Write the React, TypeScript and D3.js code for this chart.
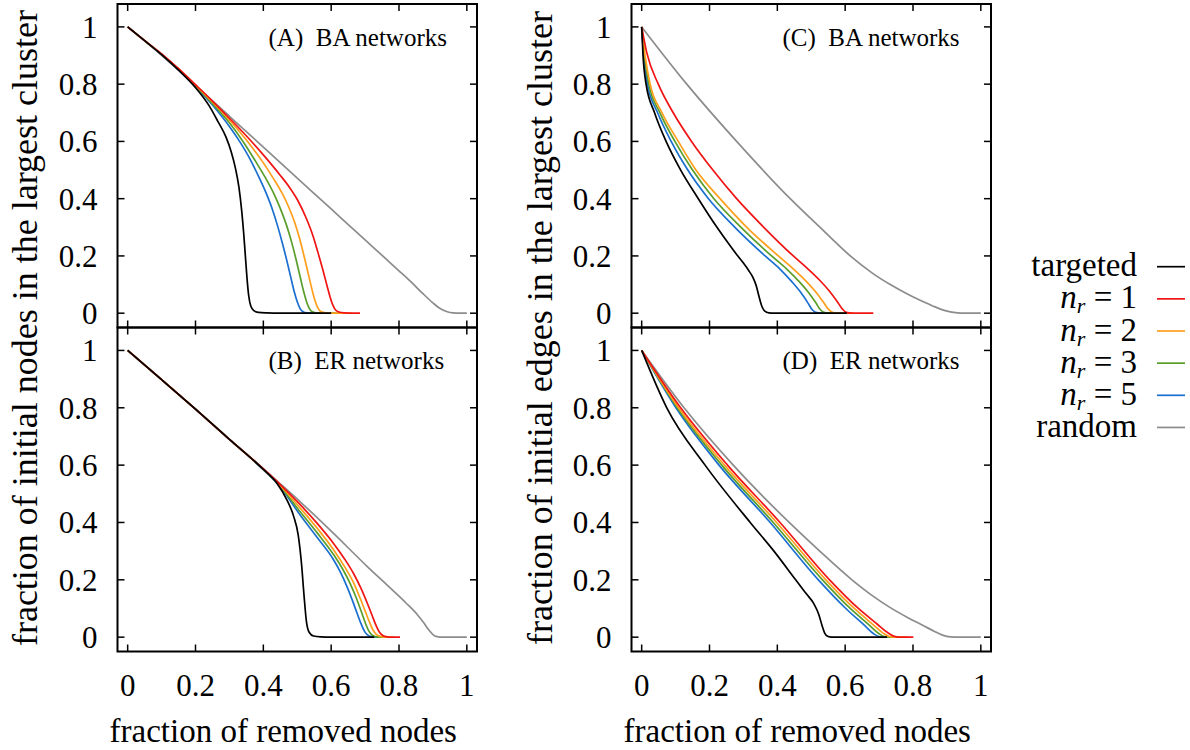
import React from 'react';
import * as d3 from 'd3';

type Pt = [number, number];

// (A) BA networks, nodes
const aTargeted: Pt[] = [[0, 1], [0.05, 0.952], [0.1, 0.903], [0.15, 0.849], [0.2, 0.788], [0.24, 0.725], [0.265, 0.672], [0.29, 0.615], [0.305, 0.565], [0.318, 0.505], [0.328, 0.44], [0.336, 0.36], [0.342, 0.28], [0.347, 0.2], [0.352, 0.12], [0.357, 0.06], [0.363, 0.025], [0.372, 0.009], [0.385, 0.003], [0.41, 0.001], [0.45, 0], [0.6, 0]];
const aNr1: Pt[] = [[0, 1], [0.05, 0.952], [0.1, 0.906], [0.15, 0.854], [0.2, 0.798], [0.25, 0.741], [0.3, 0.681], [0.351, 0.618], [0.4, 0.553], [0.449, 0.483], [0.475, 0.443], [0.5, 0.397], [0.525, 0.336], [0.547, 0.268], [0.562, 0.208], [0.577, 0.145], [0.588, 0.095], [0.597, 0.056], [0.605, 0.028], [0.613, 0.011], [0.623, 0.004], [0.64, 0.001], [0.66, 0], [0.685, 0]];
const aNr2: Pt[] = [[0, 1], [0.05, 0.952], [0.1, 0.905], [0.15, 0.853], [0.2, 0.797], [0.25, 0.738], [0.3, 0.675], [0.35, 0.605], [0.4, 0.525], [0.43, 0.47], [0.455, 0.42], [0.475, 0.37], [0.493, 0.315], [0.507, 0.26], [0.52, 0.2], [0.532, 0.14], [0.543, 0.085], [0.552, 0.045], [0.56, 0.02], [0.568, 0.007], [0.58, 0.002], [0.6, 0], [0.66, 0]];
const aNr3: Pt[] = [[0, 1], [0.05, 0.952], [0.1, 0.904], [0.15, 0.852], [0.2, 0.794], [0.25, 0.732], [0.3, 0.665], [0.34, 0.6], [0.38, 0.525], [0.41, 0.465], [0.432, 0.415], [0.452, 0.36], [0.469, 0.305], [0.483, 0.25], [0.496, 0.19], [0.508, 0.13], [0.518, 0.08], [0.527, 0.042], [0.535, 0.018], [0.543, 0.006], [0.555, 0.001], [0.575, 0], [0.635, 0]];
const aNr5: Pt[] = [[0, 1], [0.05, 0.952], [0.1, 0.904], [0.15, 0.851], [0.2, 0.792], [0.25, 0.727], [0.3, 0.652], [0.33, 0.6], [0.36, 0.54], [0.387, 0.475], [0.408, 0.42], [0.426, 0.365], [0.442, 0.305], [0.456, 0.245], [0.469, 0.185], [0.481, 0.125], [0.491, 0.076], [0.5, 0.04], [0.508, 0.017], [0.516, 0.006], [0.528, 0.001], [0.55, 0], [0.61, 0]];
const aRandom: Pt[] = [[0, 1], [0.05, 0.951], [0.1, 0.901], [0.15, 0.849], [0.2, 0.796], [0.3, 0.688], [0.4, 0.58], [0.5, 0.472], [0.6, 0.364], [0.7, 0.256], [0.764, 0.187], [0.8, 0.148], [0.84, 0.104], [0.87, 0.069], [0.9, 0.036], [0.92, 0.017], [0.94, 0.006], [0.96, 0.001], [0.98, 0], [1, 0]];

// (B) ER networks, nodes
const bTargeted: Pt[] = [[0, 1], [0.1, 0.898], [0.2, 0.795], [0.3, 0.69], [0.4, 0.585], [0.44, 0.537], [0.469, 0.48], [0.489, 0.423], [0.503, 0.355], [0.513, 0.25], [0.52, 0.145], [0.527, 0.055], [0.535, 0.017], [0.548, 0.004], [0.57, 0.001], [0.6, 0], [0.727, 0]];
const bNr1: Pt[] = [[0, 1], [0.1, 0.898], [0.2, 0.795], [0.3, 0.69], [0.4, 0.587], [0.45, 0.532], [0.508, 0.463], [0.56, 0.395], [0.607, 0.327], [0.64, 0.272], [0.666, 0.222], [0.688, 0.17], [0.706, 0.12], [0.72, 0.078], [0.732, 0.042], [0.742, 0.018], [0.752, 0.006], [0.765, 0.001], [0.78, 0], [0.803, 0]];
const bNr2: Pt[] = [[0, 1], [0.1, 0.898], [0.2, 0.795], [0.3, 0.69], [0.4, 0.586], [0.45, 0.529], [0.508, 0.451], [0.56, 0.378], [0.607, 0.305], [0.64, 0.245], [0.666, 0.19], [0.684, 0.14], [0.699, 0.095], [0.712, 0.055], [0.723, 0.026], [0.733, 0.01], [0.744, 0.003], [0.757, 0], [0.785, 0]];
const bNr3: Pt[] = [[0, 1], [0.1, 0.898], [0.2, 0.795], [0.3, 0.69], [0.4, 0.585], [0.45, 0.526], [0.508, 0.438], [0.56, 0.362], [0.607, 0.288], [0.635, 0.235], [0.656, 0.187], [0.673, 0.14], [0.688, 0.092], [0.7, 0.052], [0.71, 0.024], [0.719, 0.009], [0.73, 0.002], [0.745, 0], [0.765, 0]];
const bNr5: Pt[] = [[0, 1], [0.1, 0.898], [0.2, 0.795], [0.3, 0.69], [0.4, 0.584], [0.45, 0.524], [0.508, 0.427], [0.56, 0.346], [0.607, 0.27], [0.628, 0.225], [0.646, 0.178], [0.662, 0.13], [0.676, 0.085], [0.688, 0.047], [0.698, 0.021], [0.707, 0.008], [0.718, 0.002], [0.732, 0], [0.745, 0]];
const bRandom: Pt[] = [[0, 1], [0.1, 0.898], [0.2, 0.795], [0.3, 0.69], [0.4, 0.588], [0.45, 0.535], [0.508, 0.473], [0.607, 0.362], [0.705, 0.248], [0.77, 0.176], [0.82, 0.12], [0.853, 0.08], [0.873, 0.05], [0.888, 0.025], [0.9, 0.009], [0.912, 0.002], [0.93, 0], [1, 0]];

// (C) BA networks, edges
const cTargeted: Pt[] = [[0, 1], [0.004, 0.9], [0.013, 0.8], [0.038, 0.7], [0.072, 0.6], [0.115, 0.5], [0.167, 0.4], [0.222, 0.3], [0.255, 0.245], [0.28, 0.205], [0.3, 0.175], [0.315, 0.15], [0.328, 0.125], [0.338, 0.095], [0.346, 0.058], [0.354, 0.025], [0.363, 0.007], [0.375, 0.001], [0.39, 0], [0.605, 0]];
const cNr1: Pt[] = [[0, 1], [0.015, 0.91], [0.049, 0.8], [0.093, 0.7], [0.147, 0.6], [0.21, 0.5], [0.28, 0.4], [0.36, 0.3], [0.447, 0.2], [0.49, 0.155], [0.525, 0.115], [0.555, 0.075], [0.577, 0.04], [0.592, 0.014], [0.603, 0.003], [0.62, 0], [0.683, 0]];
const cNr2: Pt[] = [[0, 1], [0.01, 0.9], [0.025, 0.8], [0.06, 0.7], [0.108, 0.6], [0.16, 0.5], [0.231, 0.4], [0.31, 0.3], [0.403, 0.2], [0.447, 0.155], [0.484, 0.113], [0.514, 0.073], [0.536, 0.038], [0.551, 0.013], [0.562, 0.003], [0.578, 0], [0.625, 0]];
const cNr3: Pt[] = [[0, 1], [0.008, 0.9], [0.021, 0.8], [0.054, 0.7], [0.098, 0.6], [0.15, 0.5], [0.213, 0.4], [0.293, 0.3], [0.383, 0.2], [0.427, 0.155], [0.463, 0.112], [0.492, 0.072], [0.513, 0.037], [0.527, 0.012], [0.537, 0.003], [0.552, 0], [0.605, 0]];
const cNr5: Pt[] = [[0, 1], [0.006, 0.9], [0.017, 0.8], [0.047, 0.7], [0.087, 0.6], [0.136, 0.5], [0.197, 0.4], [0.275, 0.3], [0.364, 0.2], [0.407, 0.155], [0.442, 0.111], [0.47, 0.071], [0.49, 0.036], [0.503, 0.012], [0.513, 0.003], [0.528, 0], [0.585, 0]];
const cRandom: Pt[] = [[0, 1], [0.133, 0.8], [0.28, 0.6], [0.438, 0.4], [0.53, 0.295], [0.615, 0.2], [0.68, 0.14], [0.733, 0.1], [0.785, 0.066], [0.831, 0.04], [0.865, 0.022], [0.895, 0.009], [0.925, 0.002], [0.955, 0], [1, 0]];

// (D) ER networks, edges
const dTargeted: Pt[] = [[0, 1], [0.074, 0.8], [0.187, 0.6], [0.32, 0.4], [0.39, 0.3], [0.454, 0.2], [0.485, 0.152], [0.507, 0.118], [0.522, 0.08], [0.532, 0.04], [0.54, 0.013], [0.548, 0.003], [0.56, 0], [0.723, 0]];
const dNr1: Pt[] = [[0, 1], [0.115, 0.8], [0.253, 0.6], [0.408, 0.4], [0.554, 0.2], [0.639, 0.1], [0.695, 0.045], [0.725, 0.016], [0.745, 0.003], [0.765, 0], [0.801, 0]];
const dNr2: Pt[] = [[0, 1], [0.109, 0.8], [0.244, 0.6], [0.398, 0.4], [0.543, 0.2], [0.627, 0.1], [0.683, 0.043], [0.712, 0.014], [0.731, 0.002], [0.75, 0], [0.785, 0]];
const dNr3: Pt[] = [[0, 1], [0.105, 0.8], [0.236, 0.6], [0.388, 0.4], [0.533, 0.2], [0.615, 0.1], [0.671, 0.042], [0.699, 0.013], [0.716, 0.002], [0.735, 0], [0.765, 0]];
const dNr5: Pt[] = [[0, 1], [0.101, 0.8], [0.228, 0.6], [0.379, 0.4], [0.521, 0.2], [0.602, 0.1], [0.658, 0.04], [0.684, 0.012], [0.7, 0.002], [0.72, 0], [0.745, 0]];
const dRandom: Pt[] = [[0, 1], [0.125, 0.8], [0.27, 0.6], [0.435, 0.4], [0.525, 0.3], [0.62, 0.2], [0.68, 0.145], [0.733, 0.103], [0.785, 0.068], [0.831, 0.04], [0.862, 0.021], [0.887, 0.007], [0.91, 0.001], [0.94, 0], [1, 0]];

const seriesNames = ['random', 'nr5', 'nr3', 'nr2', 'nr1', 'targeted'];
const seriesColors = ['#8c8c8c', '#1a6fd0', '#5a9e2a', '#ff9f1c', '#f01414', '#000000'];
const xTicks = [0, 0.2, 0.4, 0.6, 0.8, 1];
const yTicks = [0, 0.2, 0.4, 0.6, 0.8, 1];

const legendLabels = ['targeted', '1', '2', '3', '5', 'random'];
const legendColors = ['#000000', '#f01414', '#ff9f1c', '#5a9e2a', '#1a6fd0', '#8c8c8c'];

const FONT = '"Liberation Serif", "Times New Roman", serif';

const panels = [
  { label: '(A)  BA networks', col: 0, row: 0, data: [aRandom, aNr5, aNr3, aNr2, aNr1, aTargeted] },
  { label: '(B)  ER networks', col: 0, row: 1, data: [bRandom, bNr5, bNr3, bNr2, bNr1, bTargeted] },
  { label: '(C)  BA networks', col: 1, row: 0, data: [cRandom, cNr5, cNr3, cNr2, cNr1, cTargeted] },
  { label: '(D)  ER networks', col: 1, row: 1, data: [dRandom, dNr5, dNr3, dNr2, dNr1, dTargeted] },
];

const colX = [[117.5, 477], [631.5, 991]];
const rowY = [[327.5, 4], [651.5, 327.5]];

function Panel({ p }: { p: typeof panels[number] }) {
  const x = d3.scaleLinear().domain([-0.03, 1.03]).range(colX[p.col]);
  const y = d3.scaleLinear().domain([-0.05, 1.08]).range(rowY[p.row]);
  const line = d3.line<Pt>().x(d => x(d[0])).y(d => y(d[1])).curve(d3.curveMonotoneX);
  const [x0, x1] = x.range();
  const [y1, y0] = y.range();
  const tl = 7;
  const fmt = (v: number) => String(+v.toFixed(1));
  return (
    <g>
      {p.data.map((s, i) => (
        <path key={seriesNames[i]} d={line(s) || ''} fill="none" stroke={seriesColors[i]} strokeWidth={1.7} />
      ))}
      {xTicks.map(t => (
        <g key={'x' + t} stroke="#000" strokeWidth={1.5}>
          <line x1={x(t)} x2={x(t)} y1={y1} y2={y1 - tl} />
          <line x1={x(t)} x2={x(t)} y1={y0} y2={y0 + tl} />
        </g>
      ))}
      {yTicks.map(t => (
        <g key={'y' + t} stroke="#000" strokeWidth={1.5}>
          <line x1={x0} x2={x0 + tl} y1={y(t)} y2={y(t)} />
          <line x1={x1} x2={x1 - tl} y1={y(t)} y2={y(t)} />
        </g>
      ))}
      <rect x={x0} y={y0} width={x1 - x0} height={y1 - y0} fill="none" stroke="#000" strokeWidth={2} />
      {yTicks.map(t => (
        <text key={'yl' + t} x={x0 - 20} y={y(t)} dy="0.35em" textAnchor="end" fontSize={31} fontFamily={FONT}>{fmt(t)}</text>
      ))}
      {p.row === 1 && xTicks.map(t => (
        <text key={'xl' + t} x={x(t)} y={695.5} textAnchor="middle" fontSize={31} fontFamily={FONT}>{fmt(t)}</text>
      ))}
      {p.row === 1 && (
        <text x={(x0 + x1) / 2 - 14} y={742} textAnchor="middle" fontSize={33} fontFamily={FONT}>fraction of removed nodes</text>
      )}
      <text x={x0 + 151} y={y0 + 41.5} fontSize={25} fontFamily={FONT} style={{ whiteSpace: 'pre' }}>{p.label}</text>
    </g>
  );
}

export default function App() {
  return (
    <svg width={1190} height={750} style={{ position: 'absolute', left: 0, top: 0, background: '#fff' }}>
      {panels.map(p => <Panel key={p.label} p={p} />)}
      <text transform="translate(37,328) rotate(-90)" textAnchor="middle" fontSize={36} fontFamily={FONT}>fraction of initial nodes in the largest cluster</text>
      <text transform="translate(552,328) rotate(-90)" textAnchor="middle" fontSize={36} fontFamily={FONT}>fraction of initial edges in the largest cluster</text>
      {legendLabels.map((l, i) => {
        const ly = 266.7 + 32.15 * i;
        return (
          <g key={l}>
            {l === 'targeted' || l === 'random' ? (
              <text x={1137} y={ly + 9.5} textAnchor="end" fontSize={33} fontFamily={FONT}>{l}</text>
            ) : (
              <text x={1137} y={ly + 9.5} textAnchor="end" fontSize={33} fontFamily={FONT}>
                <tspan fontStyle="italic">n</tspan>
                <tspan fontStyle="italic" fontSize={22} dy={5}>r</tspan>
                <tspan dy={-5}>{' = ' + l}</tspan>
              </text>
            )}
            <line x1={1157} x2={1185} y1={ly} y2={ly} stroke={legendColors[i]} strokeWidth={1.7} />
          </g>
        );
      })}
    </svg>
  );
}
